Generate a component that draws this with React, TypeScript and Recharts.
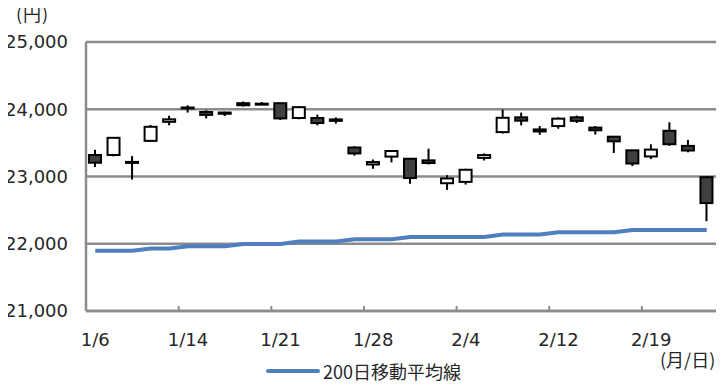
import { ComposedChart, Bar, Line, XAxis, YAxis, CartesianGrid, Legend } from 'recharts';

// trading days, Jan 6 - Feb 25
const dates = [
  '1/6', '1/7', '1/8', '1/9', '1/10', '1/14', '1/15', '1/16', '1/17', '1/20',
  '1/21', '1/22', '1/23', '1/24', '1/27', '1/28', '1/29', '1/30', '1/31', '2/3',
  '2/4', '2/5', '2/6', '2/7', '2/10', '2/12', '2/13', '2/14', '2/17', '2/18',
  '2/19', '2/20', '2/21', '2/25',
];
const opens = [
  23320, 23320, 23217, 23530, 23813, 24026, 23960, 23951, 24090, 24083,
  24090, 23870, 23870, 23849, 23431, 23179, 23296, 23264, 23240, 22900,
  22920, 23277, 23660, 23880, 23700, 23750, 23880, 23727, 23592, 23389,
  23298, 23680, 23455, 22990,
];
const highs = [
  23396, 23577, 23303, 23767, 23903, 24059, 23985, 23963, 24115, 24108,
  24100, 24040, 23920, 23879, 23450, 23253, 23390, 23275, 23414, 23020,
  23115, 23343, 23995, 23950, 23750, 23880, 23905, 23750, 23600, 23395,
  23479, 23806, 23545, 23000,
];
const lows = [
  23140, 23299, 22955, 23523, 23761, 23951, 23863, 23899, 24040, 24062,
  23840, 23850, 23760, 23786, 23310, 23115, 23210, 22892, 23180, 22800,
  22880, 23238, 23640, 23760, 23620, 23710, 23796, 23623, 23350, 23155,
  23260, 23457, 23360, 22335,
];
const closes = [
  23205, 23575, 23204, 23739, 23850, 24025, 23916, 23933, 24060, 24075,
  23864, 24031, 23795, 23827, 23343, 23215, 23379, 22977, 23200, 22971,
  23100, 23319, 23873, 23830, 23670, 23860, 23827, 23687, 23523, 23193,
  23400, 23480, 23386, 22605,
];
// 200-day moving average
const ma200 = [
  21896, 21896, 21896, 21930, 21930, 21963, 21963, 21963, 21997, 21997,
  21997, 22033, 22033, 22033, 22067, 22067, 22067, 22101, 22101, 22101,
  22101, 22101, 22136, 22136, 22136, 22170, 22170, 22170, 22170, 22206,
  22206, 22206, 22206, 22206,
];
const yTicks = [21000, 22000, 23000, 24000, 25000];

const data = dates.map((d, i) => ({
  date: d,
  open: opens[i],
  high: highs[i],
  low: lows[i],
  close: closes[i],
  range: [lows[i], highs[i]],
  ma: ma200[i],
}));

const NUM_FONT = '"DejaVu Sans", "Noto Sans CJK JP", sans-serif';
const JP_FONT = '"Noto Sans CJK JP", sans-serif';
const GRID = '#8c8c8c';
const MA_COLOR = '#4f7fbd';

const Candle = (props: any) => {
  const { x, y, width, height, payload } = props;
  if (!payload) return null;
  const { open, close, high, low } = payload;
  const top0 = Math.min(y, y + height);
  const h = Math.abs(height);
  const toY = (v: number) => top0 + ((high - v) / (high - low)) * h;
  const up = close >= open;
  const bTop = toY(Math.max(open, close));
  const bBot = toY(Math.min(open, close));
  const cx = x + width / 2;
  return (
    <g>
      <line x1={cx} x2={cx} y1={top0} y2={top0 + h} stroke="#000" strokeWidth={2} />
      <rect
        x={x + 1}
        y={bTop}
        width={width - 2}
        height={Math.max(bBot - bTop, 1)}
        fill={up ? '#ffffff' : '#404040'}
        stroke="#000"
        strokeWidth={2}
      />
    </g>
  );
};

const DateTick = (props: any) => {
  const { x, y, payload, index } = props;
  if (index % 5 !== 0) return null;
  const off = payload?.offset ?? 0;
  return (
    <g>
      {index > 0 && (
        <line x1={x - off} x2={x - off} y1={y - 5} y2={y} stroke={GRID} strokeWidth={2} />
      )}
      <text x={x} y={y + 35} textAnchor="middle" fontSize={18} fontFamily={NUM_FONT} fill="#262626">
        {payload.value}
      </text>
    </g>
  );
};

const MaLegend = () => (
  <div style={{ display: 'flex', alignItems: 'center', fontFamily: JP_FONT, fontSize: 18, color: '#262626' }}>
    <svg width={54} height={10} style={{ marginRight: 3 }}>
      <line x1={2} x2={52} y1={5} y2={5} stroke={MA_COLOR} strokeWidth={4} strokeLinecap="round" />
    </svg>
    <span>200日移動平均線</span>
  </div>
);

export default function App() {
  return (
    <div style={{ position: 'relative', width: 727, height: 386, margin: '-8px 0 0 -8px', background: '#fff' }}>
      <div style={{ position: 'absolute', left: 16, top: 0, fontFamily: JP_FONT, fontSize: 18, color: '#262626', letterSpacing: 1 }}>
        (円)
      </div>
      <div style={{ position: 'absolute', left: 660, top: 346, fontFamily: JP_FONT, fontSize: 18, color: '#262626' }}>
        (月/日)
      </div>
      <ComposedChart width={727} height={386} data={data} margin={{ top: 42, right: 11, bottom: 35, left: 10 }}>
        <CartesianGrid horizontal vertical={false} stroke={GRID} strokeWidth={2.5} />
        <XAxis
          dataKey="date"
          interval={0}
          height={40}
          tickSize={0}
          tickMargin={0}
          tickLine={false}
          axisLine={{ stroke: GRID, strokeWidth: 2.5 }}
          tick={<DateTick />}
        />
        <YAxis
          domain={[21000, 25000]}
          ticks={yTicks}
          allowDataOverflow
          width={76}
          tickSize={0}
          tickMargin={18}
          tickLine={false}
          axisLine={{ stroke: GRID, strokeWidth: 2.5 }}
          tickFormatter={(v: number) => v.toLocaleString('en-US')}
          tick={{ fontSize: 18, fontFamily: NUM_FONT, fill: '#262626' }}
        />
        <Bar dataKey="range" barSize={14} shape={<Candle />} legendType="none" isAnimationActive={false} />
        <Line
          dataKey="ma"
          name="200日移動平均線"
          type="linear"
          stroke={MA_COLOR}
          strokeWidth={4}
          dot={false}
          activeDot={false}
          isAnimationActive={false}
        />
        <Legend
          layout="horizontal"
          verticalAlign="middle"
          align="center"
          content={<MaLegend />}
          wrapperStyle={{ position: 'absolute', left: 266, top: 358, width: 'auto', height: 'auto' }}
        />
      </ComposedChart>
    </div>
  );
}
